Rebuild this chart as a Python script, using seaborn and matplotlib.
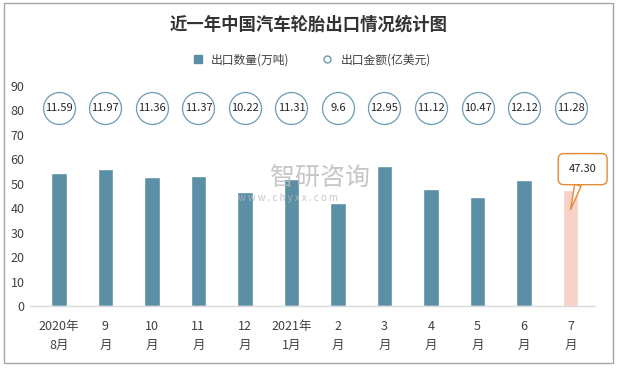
import numpy as np
import matplotlib
matplotlib.use('Agg')
import matplotlib.pyplot as plt
import seaborn as sns
from matplotlib.lines import Line2D
from matplotlib.patches import Rectangle

# data
months = ['2020年\n8月', '9\n月', '10\n月', '11\n月', '12\n月', '2021年\n1月',
          '2\n月', '3\n月', '4\n月', '5\n月', '6\n月', '7\n月']
volume = [54.3, 55.9, 52.7, 53.1, 46.5, 52.0, 42.0, 57.3, 47.9, 44.6, 51.6, 47.30]
amount = [11.59, 11.97, 11.36, 11.37, 10.22, 11.31, 9.6, 12.95, 11.12, 10.47, 12.12, 11.28]

bar_color = '#5b8fa6'
last_color = '#f8d2c9'
circle_color = '#6a9bb2'
text_color = '#404040'

sns.set_style('white')
plt.rcParams['font.family'] = ['Noto Sans CJK SC', 'DejaVu Sans']

fig = plt.figure(figsize=(6.17, 3.68), dpi=100)
ax = fig.add_axes([0.0486, 0.1685, 0.9154, 0.5978])

colors = [bar_color] * (len(months) - 1) + [last_color]
sns.barplot(x=list(range(len(months))), y=volume, hue=list(range(len(months))),
            palette=colors, legend=False, width=0.33, ax=ax, saturation=1)

# amount shown as open circles at a fixed height with value labels
circle_y = 81
xs = np.arange(len(months))
ax.plot(xs, [circle_y] * len(xs), linestyle='none', marker='o', markersize=23,
        markerfacecolor='white', markeredgecolor=circle_color, markeredgewidth=0.9)
for x, v in zip(xs, amount):
    ax.text(x, circle_y, f'{v:g}', ha='center', va='center', fontsize=8,
            color='#222222')

# callout for latest month
ax.annotate(f'{volume[-1]:.2f}', xy=(11.0, 39.5), xytext=(11.26, 56.0),
            ha='center', va='center', fontsize=8, color='#222222',
            bbox=dict(boxstyle='round,pad=0.95,rounding_size=0.5', fc='white',
                      ec='#e38b32', lw=1),
            arrowprops=dict(arrowstyle='wedge,tail_width=0.6,shrink_factor=0.5',
                            fc='white', ec='#e38b32', lw=1,
                            shrinkA=0, shrinkB=0))

ax.set_xlim(-0.62, 11.52)
ax.set_ylim(0, 90)
ax.set_yticks(np.arange(0, 91, 10))
ax.set_xticks(xs)
ax.set_xticklabels(months, linespacing=1.6)
ax.tick_params(axis='both', length=0, labelsize=9, colors=text_color)
ax.tick_params(axis='x', pad=10)
ax.tick_params(axis='y', pad=4)
for s in ['top', 'right', 'left']:
    ax.spines[s].set_visible(False)
ax.spines['bottom'].set_color('#d9d9d9')
ax.spines['bottom'].set_linewidth(1)

# watermark
fig.text(0.437, 0.516, '智研咨询', fontsize=18, color='#b8b8b8', alpha=0.8,
         ha='left', va='center')
fig.text(0.385, 0.475, 'w w w . c h y x x . c o m', fontsize=7, color='#b8b8b8',
         alpha=0.8, ha='left', va='top')

fig.text(0.5, 0.932, '近一年中国汽车轮胎出口情况统计图', ha='center', va='center',
         fontsize=12.5, fontweight='bold', color='#333333')

handles = [
    Line2D([], [], linestyle='none', marker='s', markersize=6,
           markerfacecolor=bar_color, markeredgecolor=bar_color),
    Line2D([], [], linestyle='none', marker='o', markersize=5,
           markerfacecolor='white', markeredgecolor=circle_color),
]
fig.legend(handles, ['出口数量(万吨)', '出口金额(亿美元)'], loc='center',
           bbox_to_anchor=(0.5, 0.838), ncol=2, frameon=False, fontsize=8.5,
           handletextpad=0.1, columnspacing=2.2, labelcolor=text_color)

fig.patches.append(Rectangle((0.007, 0.013), 0.986, 0.978, transform=fig.transFigure,
                             fill=False, ec='#a6a6a6', lw=1))

fig.savefig('out.png', dpi=100)
